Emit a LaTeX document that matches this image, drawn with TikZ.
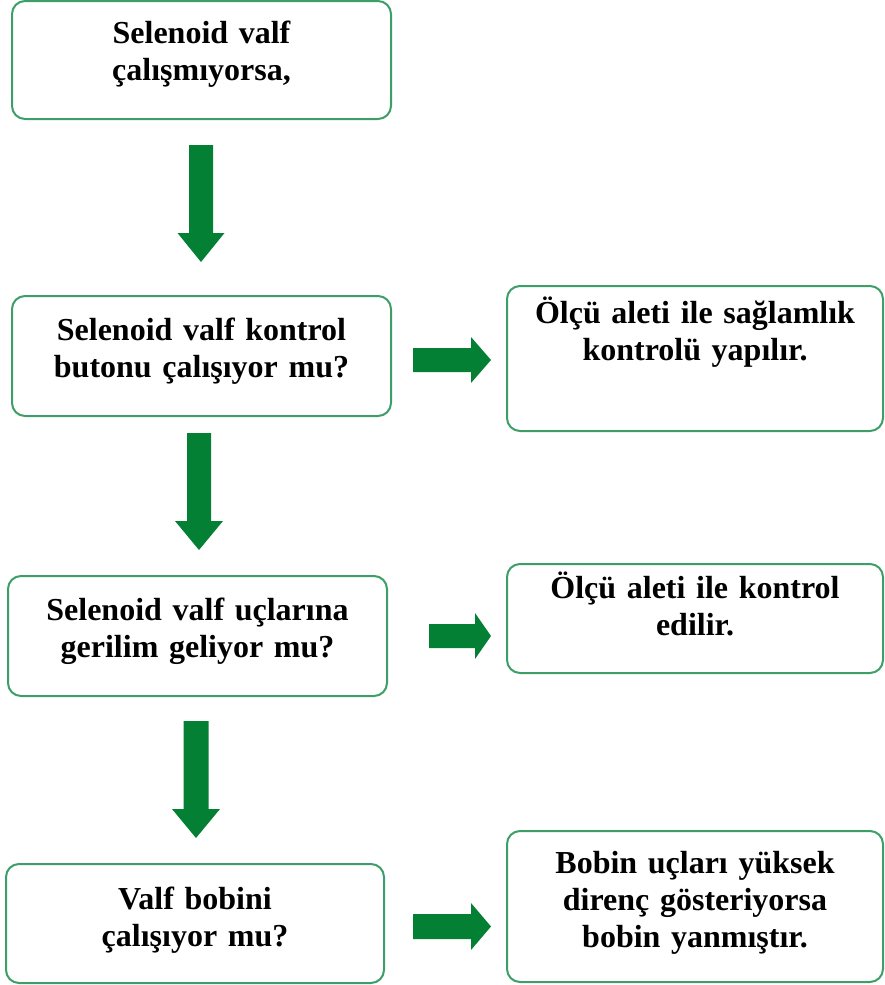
\documentclass[tikz,border=0pt]{standalone}
\usepackage{fontspec}
\setmainfont{Liberation Serif}
\usetikzlibrary{calc}
\definecolor{boxgreen}{RGB}{62,158,104}
\definecolor{arrowgreen}{RGB}{3,128,51}
\tikzset{
  box/.style={draw=boxgreen, line width=2pt, rounded corners=13pt, fill=white, inner sep=0pt},
  lbl/.style={anchor=base, text width=370pt, align=center, inner sep=0pt,
    font=\bfseries\fontsize{32}{37}\selectfont},
  flow/.style={fill=arrowgreen}
}
% block arrow pointing down: #1 top centre, #2 tip, #3 half shaft, #4 half head
\newcommand\dnarrow[4]{%
  \fill[flow] ($(#1)+(-#3,0)$) -- ($(#1)+(#3,0)$) -- ($(#2)+(#3,-29)$)
    -- ($(#2)+(#4,-29)$) -- (#2) -- ($(#2)+(-#4,-29)$) -- ($(#2)+(-#3,-29)$) -- cycle;}
% block arrow pointing right: #1 tail centre, #2 tip, #3 half shaft, #4 half head, #5 head length
\newcommand\rtarrow[5]{%
  \fill[flow] ($(#1)+(0,-#3)$) -- ($(#2)+(-#5,-#3)$) -- ($(#2)+(-#5,-#4)$)
    -- (#2) -- ($(#2)+(-#5,#4)$) -- ($(#2)+(-#5,#3)$) -- ($(#1)+(0,#3)$) -- cycle;}
\begin{document}
\begin{tikzpicture}[x=1pt, y=-1pt]
\useasboundingbox (0,0) rectangle (885,985);

% boxes
\node[box, minimum width=379pt, minimum height=118pt] (b1) at (201.5,60) {};
\node[box, minimum width=379pt, minimum height=120pt] (b2) at (201.5,356) {};
\node[box, minimum width=376pt, minimum height=145pt] (b3) at (695,358.5) {};
\node[box, minimum width=379pt, minimum height=120pt] (b4) at (197.5,636) {};
\node[box, minimum width=376pt, minimum height=109pt] (b5) at (695,618.5) {};
\node[box, minimum width=378pt, minimum height=119pt] (b6) at (195,923.5) {};
\node[box, minimum width=376pt, minimum height=151pt] (b7) at (695,906.5) {};

% texts
\node[lbl] (t1) at (b1.center |- 0,43) {Selenoid valf\\çalışmıyorsa,};
\node[lbl] (t2) at (b2.center |- 0,340) {Selenoid valf kontrol\\butonu çalışıyor mu?};
\node[lbl] (t3) at (b3.center |- 0,323) {Ölçü aleti ile sağlamlık\\kontrolü yapılır.};
\node[lbl] (t4) at (b4.center |- 0,620) {Selenoid valf uçlarına\\gerilim geliyor mu?};
\node[lbl] (t5) at (b5.center |- 0,598) {Ölçü aleti ile kontrol\\edilir.};
\node[lbl] (t6) at (b6.center |- 0,909) {Valf bobini\\çalışıyor mu?};
\node[lbl] (t7) at (b7.center |- 0,873) {Bobin uçları yüksek\\direnç gösteriyorsa\\bobin yanmıştır.};

% arrow end points
\coordinate (d1s) at ($(b1.south)+(-0.5,25)$);
\coordinate (d1e) at ($(b2.north)+(-0.5,-33)$);
\coordinate (d2s) at ($(b2.south)+(-2.5,16)$);
\coordinate (d2e) at ($(b4.north)+(1.5,-25)$);
\coordinate (d3s) at ($(b4.south)+(-1.5,24)$);
\coordinate (d3e) at ($(b6.north)+(1,-25)$);
\coordinate (r1s) at ($(b2.east |- 0,360)+(21,0)$);
\coordinate (r1e) at ($(b3.west |- 0,360)+(-15,0)$);
\coordinate (r2s) at ($(b4.east |- 0,636)+(41,0)$);
\coordinate (r2e) at ($(b5.west |- 0,636)+(-15,0)$);
\coordinate (r3s) at ($(b6.east |- 0,926.5)+(28,0)$);
\coordinate (r3e) at ($(b7.west |- 0,926.5)+(-15,0)$);

% arrows
\dnarrow{d1s}{d1e}{12}{23.5}
\dnarrow{d2s}{d2e}{12}{24}
\dnarrow{d3s}{d3e}{12.5}{24}
\rtarrow{r1s}{r1e}{12}{23}{20}
\rtarrow{r2s}{r2e}{12}{23}{16}
\rtarrow{r3s}{r3e}{12.5}{23.5}{20}
\end{tikzpicture}
\end{document}
